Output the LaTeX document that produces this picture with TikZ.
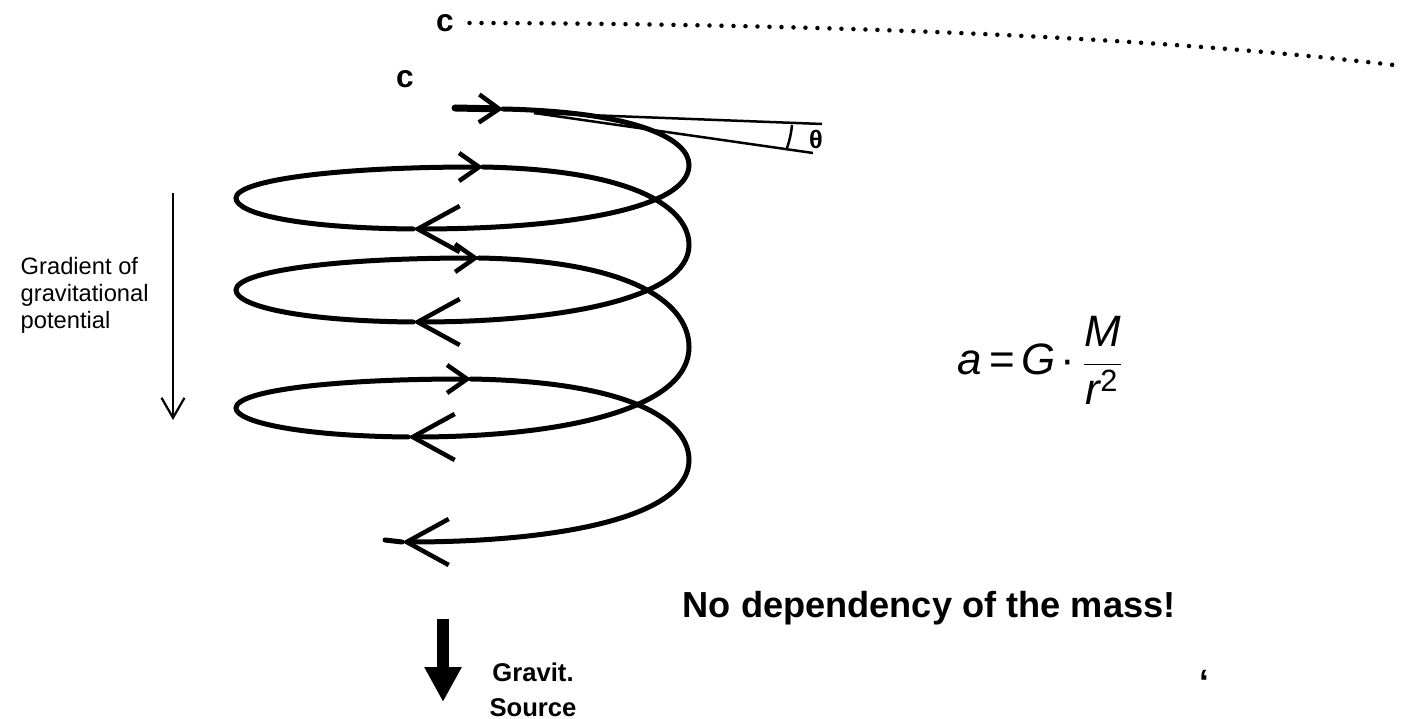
\documentclass[tikz,border=0pt]{standalone}
\usepackage{amsmath}
\usepackage{fontspec}
\setmainfont{Liberation Sans}
\usetikzlibrary{positioning,arrows.meta,calc}
\tikzset{
	spiral/.style={line width=0.5mm, line cap=round},
	fwd/.style={spiral, -{Straight Barb[length=2mm,width=2.8mm,line width=0.45mm]}},
	back/.style={spiral, -{Straight Barb[length=4.2mm,width=4.6mm,line width=0.45mm]}},
	lbl/.style={font=\bfseries\fontsize{9}{11}\selectfont, inner sep=0pt},
	small/.style={font=\fontsize{6.75}{7.6}\selectfont, inner sep=0pt, align=left},
	dots/.style={line width=0.45mm, line cap=round, dash pattern=on 0pt off 1.2mm},
	thin/.style={line width=0.25mm},
}

\begin{document}
\begin{tikzpicture}[x=0.1mm, y=-0.1mm]
	\useasboundingbox (0,0) rectangle (1414,719);
	% labels c and the light ray
	\node[lbl] (c1) at (445,23) {c};
	\node[lbl] (c2) at (405,79) {c};
	\draw[dots] ([xshift=1.5mm]c1.east) .. controls (900,24) and (1200,42) .. (1402,66);
	% spiral path
	\draw[fwd, line width=0.7mm] (455,108) -- (503,109);
	\foreach \xt/\yt/\ca/\ym/\cb/\xb/\yb in {503/109/140/165/210/413/229, 483/167/210/245/299/413/322, 479/258/307/347/410/408/437, 471/379/424/460/517/402/542}
		\draw[back] (\xt,\yt) .. controls (640,\yt+3) and (689,\ca) .. (689,\ym) .. controls (689,\cb) and (560,\yb) .. (\xb,\yb);
	\foreach \xb/\yb/\ca/\yl/\cb/\xn/\yn in {413/229/214/198/181/483/167, 413/322/306/290/272/479/258, 408/437/422/408/391/471/379}
		\draw[fwd] (\xb,\yb) .. controls (300,\yb-1) and (236,\ca) .. (236,\yl) .. controls (236,\cb) and (330,\yn) .. (\xn,\yn);
	\draw[spiral] (402,542) -- (385,540);
	% deflection angle
	\coordinate (tg) at (534,113);
	\draw[thin] (tg) -- (822,124);
	\draw[thin] (tg) -- (813,153);
	\draw[thin] (792,125) to[bend left=6] (787,148);
	\node[font=\bfseries\fontsize{7.2}{8}\selectfont, inner sep=0pt] (th) at (816,139) {θ};
	% gradient of the potential
	\node[small, anchor=north west] (grad) at (20,257) {Gradient of\\gravitational\\potential};
	\coordinate (g1) at (173,193);
	\coordinate (g2) at (173,420);
	\draw[line width=0.22mm, -{Straight Barb[length=2mm,width=2.3mm]}] (g1) -- (g2);
	% formula
	\node[anchor=base west, inner sep=0pt, font=\fontsize{12.5}{14}\selectfont] (eq) at (957,375)
		{$\textit{a}\mskip3mu\text{=}\mskip3mu\textit{G}\mskip2mu\text{·}\mskip2mu\dfrac{\textit{M}}{\textit{r}^{\text{2}}}$};
	\node[anchor=base west, inner sep=0pt, font=\bfseries\fontsize{10.3}{12}\selectfont] (mass) at (682,617) {No dependency of the mass!};
	% gravitational source
	\coordinate (s1) at (443,619);
	\coordinate (s2) at (443,702);
	\draw[line width=1.2mm, -{Triangle[length=3.5mm,width=3.5mm]}] (s1) -- (s2);
	\node[anchor=north, inner sep=0pt, align=center, font=\bfseries\fontsize{7.3}{10}\selectfont] (src) at (533,662) {Gravit.\\Source};
	\node[anchor=north, inner sep=0pt, font=\bfseries\fontsize{10}{12}\selectfont] (q) at (1204,670) {‘};
\end{tikzpicture}
\end{document}
